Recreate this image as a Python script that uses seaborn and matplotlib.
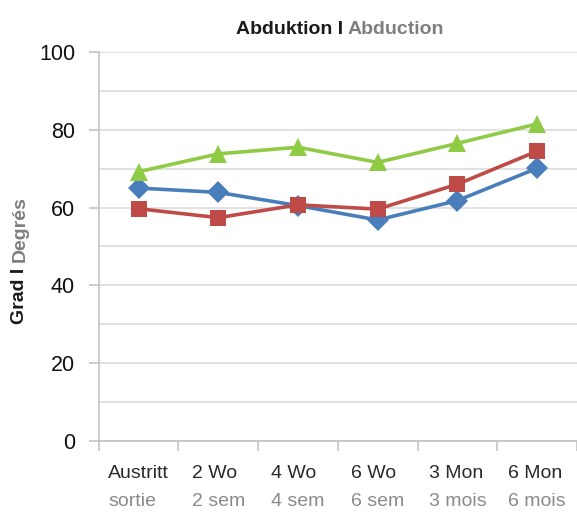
import numpy as np
import pandas as pd
import seaborn as sns
from matplotlib import pyplot as plt
from matplotlib.offsetbox import TextArea, VPacker, HPacker, AnnotationBbox

# data
labels_de = ["Austritt", "2 Wo", "4 Wo", "6 Wo", "3 Mon", "6 Mon"]
labels_fr = ["sortie", "2 sem", "4 sem", "6 sem", "3 mois", "6 mois"]
blue_vals = [65.0, 63.9, 60.5, 56.8, 61.8, 70.1]
red_vals = [59.7, 57.4, 60.7, 59.6, 66.0, 74.5]
green_vals = [69.2, 73.8, 75.5, 71.6, 76.5, 81.5]

series = ["A", "B", "C"]
colors = {"A": "#4A7EBB", "B": "#BE4B48", "C": "#8FCB45"}
markers = {"A": "D", "B": "s", "C": "^"}

df = pd.DataFrame({
    "x": labels_de * 3,
    "y": blue_vals + red_vals + green_vals,
    "s": ["A"] * 6 + ["B"] * 6 + ["C"] * 6,
})

sns.set_style("white")
plt.rcParams['font.family'] = ['Liberation Sans', 'DejaVu Sans']

fig = plt.figure(figsize=(5.77, 5.14), dpi=100)
ax = fig.add_axes([0.171, 0.142, 0.829, 0.757])

sns.lineplot(data=df, x="x", y="y", hue="s", style="s", hue_order=series,
             style_order=series, palette=colors, markers=markers, dashes=False,
             markersize=11, markeredgewidth=0, linewidth=2.6, sort=False,
             legend=False, ax=ax)
# triangles look a bit bigger in the reference
for ln in ax.lines:
    if ln.get_marker() == '^':
        ln.set_markersize(12.5)

ax.set_xlim(-0.5, 5.5)
ax.set_ylim(0, 100)
ax.set_yticks(np.arange(0, 101, 20))
ax.set_yticks(np.arange(10, 100, 20), minor=True)
ax.grid(True, axis='y', which='both', color='#d9d9d9', linewidth=1.1)
ax.set_axisbelow(True)
ax.tick_params(axis='y', which='major', length=7, color='#bfbfbf', width=1.1,
               labelsize=15.5, pad=10, labelcolor='#111111', direction='out', left=True)
ax.tick_params(axis='y', which='minor', length=0)

# x ticks sit between categories
ax.set_xticks(np.arange(-0.5, 6, 1))
ax.set_xticklabels([])
ax.tick_params(axis='x', length=7, color='#bfbfbf', width=1.1, direction='out', bottom=True)

for sp in ["top", "right"]:
    ax.spines[sp].set_visible(False)
for sp in ["left", "bottom"]:
    ax.spines[sp].set_color('#bfbfbf')
    ax.spines[sp].set_linewidth(1.1)
ax.set_xlabel("")
ax.set_ylabel("")

# two-line category labels, lines left-aligned, block centred on category
for i, (de, fr) in enumerate(zip(labels_de, labels_fr)):
    t1 = TextArea(de, textprops=dict(color='#2a2a2a', fontsize=14))
    t2 = TextArea(fr, textprops=dict(color='#8a8a8a', fontsize=14))
    box = VPacker(children=[t1, t2], align='left', pad=0, sep=8)
    ab = AnnotationBbox(box, (i, 0), xycoords=ax.get_xaxis_transform(),
                        xybox=(0, -17), boxcoords='offset points',
                        box_alignment=(0.5, 1), frameon=False)
    ax.add_artist(ab)

# title in two colours
ta = TextArea("Abduktion I ", textprops=dict(color='#1a1a1a', fontsize=14, fontweight='bold'))
tb = TextArea("Abduction", textprops=dict(color='#7f7f7f', fontsize=14, fontweight='bold'))
title = AnnotationBbox(HPacker(children=[ta, tb], align='baseline', pad=0, sep=0),
                       (340 / 577, 1 - 29 / 514), xycoords='figure fraction',
                       box_alignment=(0.5, 0.5), frameon=False)
fig.add_artist(title)

# y label in two colours
ysplit = 1 - 262 / 514
fig.text(20 / 577, ysplit, "Grad I ", rotation=90, ha='center', va='top',
         color='#1a1a1a', fontsize=14, fontweight='bold')
fig.text(20 / 577, ysplit, "Degrés", rotation=90, ha='center', va='bottom',
         color='#7f7f7f', fontsize=14, fontweight='bold')

fig.savefig("out.png", dpi=100)
